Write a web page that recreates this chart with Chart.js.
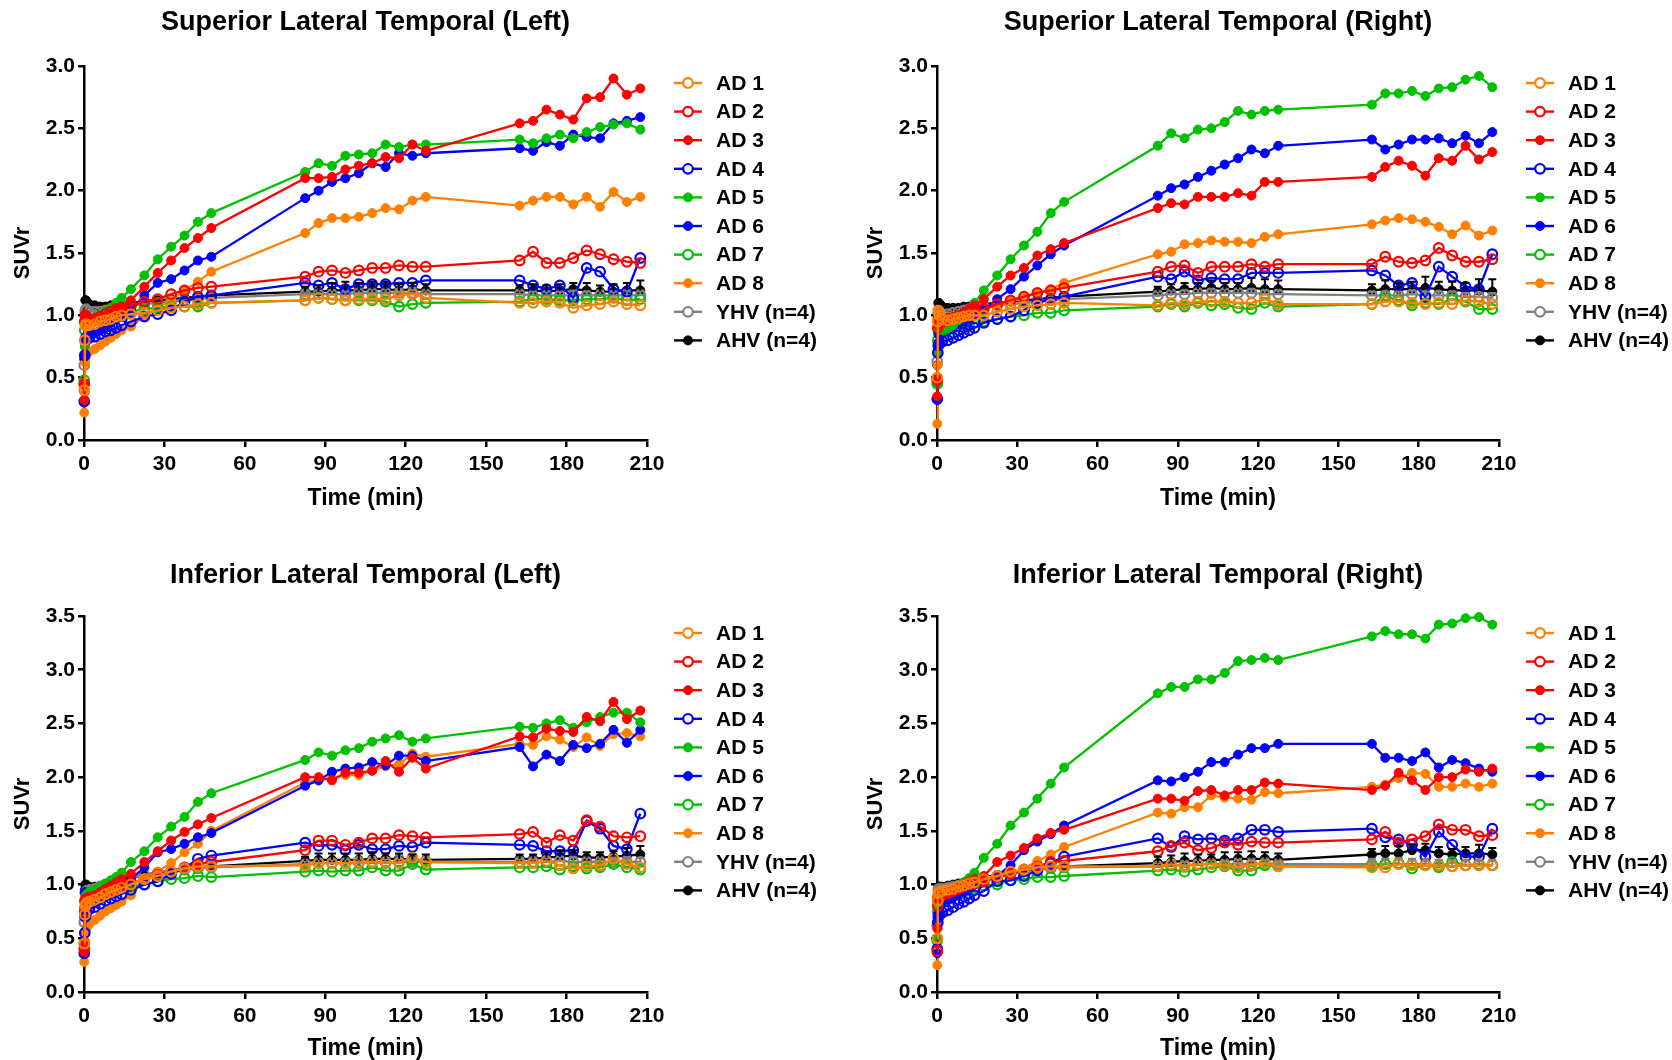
<!DOCTYPE html>
<html>
<head>
<meta charset="utf-8">
<script src="https://cdn.jsdelivr.net/npm/chart.js"></script>
<style>
html, body { margin: 0; padding: 0; background: #fff; overflow: hidden; }
#wrap { position: relative; width: 1672px; height: 1060px; }
canvas { position: absolute; }
</style>
</head>
<body>
<div id="wrap">
  <canvas id="c1" width="836" height="530" style="left:0;top:0"></canvas>
  <canvas id="c2" width="836" height="530" style="left:836px;top:0"></canvas>
  <canvas id="c3" width="836" height="530" style="left:0;top:530px"></canvas>
  <canvas id="c4" width="836" height="530" style="left:836px;top:530px"></canvas>
</div>
<script>
// frame mid-times (min) for the three scan sessions
const t1 = [0.1, 0.3, 0.5, 0.75, 1, 2, 4, 6, 8, 10, 12, 14, 17.5, 22.5, 27.5, 32.5, 37.5, 42.5, 47.5];
const t2 = [82.5, 87.5, 92.5, 97.5, 102.5, 107.5, 112.5, 117.5, 122.5, 127.5];
const t3 = [162.5, 167.5, 172.5, 177.5, 182.5, 187.5, 192.5, 197.5, 202.5, 207.5];

const seriesLabels = ['AD 1', 'AD 2', 'AD 3', 'AD 4', 'AD 5', 'AD 6', 'AD 7', 'AD 8', 'YHV (n=4)', 'AHV (n=4)'];
const xTicks = [0, 30, 60, 90, 120, 150, 180, 210];

// Superior Lateral Temporal (Left)
const sltL_AD1 = [0.40,0.80,0.92,0.93,0.92,0.92,0.93,0.95,0.96,0.97,0.99,1.00,1.01,1.02,1.04,1.06,1.07,1.09,1.10, 1.12,1.14,1.13,1.12,1.13,1.13,1.13,1.16,1.17,1.14, 1.10,1.10,1.11,1.10,1.06,1.08,1.09,1.11,1.09,1.08];
const sltL_AD2 = [0.45,0.95,1.00,0.98,0.96,0.96,0.97,0.99,1.01,1.03,1.05,1.06,1.08,1.11,1.13,1.17,1.20,1.22,1.23, 1.31,1.35,1.36,1.34,1.36,1.38,1.38,1.40,1.39,1.39, 1.44,1.51,1.42,1.42,1.46,1.52,1.49,1.45,1.43,1.42];
const sltL_AD3 = [0.32,0.45,0.98,1.00,0.97,0.95,0.95,0.97,0.99,1.01,1.04,1.07,1.12,1.23,1.34,1.44,1.54,1.62,1.70, 2.10,2.10,2.11,2.17,2.20,2.22,2.27,2.26,2.37,2.32, 2.54,2.56,2.65,2.61,2.57,2.74,2.75,2.90,2.77,2.82];
const sltL_AD4 = [0.31,0.68,0.80,0.82,0.82,0.82,0.83,0.85,0.87,0.88,0.90,0.92,0.95,0.99,1.01,1.04,1.11,1.15,1.16, 1.26,1.24,1.26,1.21,1.25,1.25,1.25,1.26,1.26,1.28, 1.28,1.24,1.21,1.24,1.14,1.38,1.35,1.21,1.19,1.46];
const sltL_AD5 = [0.45,0.75,0.95,0.96,0.96,0.96,0.98,1.00,1.03,1.06,1.10,1.14,1.21,1.32,1.45,1.55,1.64,1.75,1.82, 2.15,2.22,2.20,2.28,2.29,2.30,2.37,2.35,2.37,2.37, 2.41,2.38,2.42,2.45,2.42,2.47,2.51,2.53,2.54,2.49];
const sltL_AD6 = [0.30,0.67,0.78,0.80,0.82,0.84,0.86,0.88,0.91,0.94,0.97,1.00,1.04,1.16,1.26,1.29,1.36,1.44,1.47, 1.94,2.00,2.07,2.10,2.14,2.22,2.19,2.30,2.28,2.30, 2.34,2.32,2.39,2.36,2.45,2.43,2.42,2.54,2.56,2.59];
const sltL_AD7 = [0.48,0.88,0.94,0.95,0.95,0.95,0.96,0.97,0.98,1.00,1.01,1.02,1.03,1.05,1.06,1.07,1.07,1.07,1.10, 1.12,1.14,1.13,1.12,1.12,1.12,1.11,1.07,1.09,1.10, 1.11,1.13,1.13,1.12,1.12,1.13,1.13,1.14,1.12,1.13];
const sltL_AD8 = [0.22,0.38,0.62,0.68,0.70,0.71,0.73,0.76,0.79,0.82,0.85,0.88,0.91,0.99,1.06,1.12,1.20,1.27,1.35, 1.66,1.74,1.78,1.78,1.79,1.82,1.86,1.85,1.92,1.95, 1.88,1.92,1.95,1.95,1.89,1.95,1.87,1.99,1.91,1.95];
const sltL_YHV = [0.60,0.95,1.04,1.05,1.04,1.03,1.03,1.03,1.04,1.05,1.06,1.07,1.08,1.09,1.10,1.11,1.12,1.13,1.14, 1.17,1.17,1.17,1.17,1.18,1.18,1.18,1.18,1.18,1.17, 1.17,1.16,1.16,1.16,1.16,1.16,1.16,1.16,1.16,1.16];
const sltL_AHV = [0.65,1.02,1.12,1.12,1.11,1.09,1.08,1.07,1.07,1.08,1.08,1.09,1.10,1.11,1.12,1.13,1.14,1.15,1.16, 1.19,1.19,1.20,1.20,1.20,1.21,1.21,1.20,1.21,1.20, 1.20,1.20,1.19,1.20,1.21,1.20,1.19,1.19,1.20,1.20];

// Superior Lateral Temporal (Right)
const sltR_AD1 = [0.50,0.95,1.04,1.03,1.00,0.97,0.96,0.97,0.98,0.99,1.00,1.00,1.00,1.03,1.05,1.07,1.08,1.09,1.10, 1.08,1.10,1.09,1.11,1.11,1.11,1.10,1.10,1.13,1.09, 1.09,1.11,1.11,1.10,1.09,1.10,1.09,1.12,1.11,1.09];
const sltR_AD2 = [0.48,0.90,0.97,0.97,0.96,0.96,0.97,0.98,0.99,1.00,1.02,1.03,1.05,1.09,1.12,1.15,1.18,1.20,1.22, 1.35,1.39,1.40,1.34,1.39,1.39,1.39,1.41,1.39,1.41, 1.41,1.47,1.43,1.42,1.44,1.54,1.48,1.43,1.43,1.45];
const sltR_AD3 = [0.35,0.50,0.92,0.93,0.93,0.94,0.95,0.97,1.00,1.02,1.05,1.08,1.13,1.23,1.32,1.38,1.48,1.53,1.58, 1.86,1.90,1.89,1.95,1.95,1.95,1.98,1.96,2.07,2.07, 2.11,2.19,2.24,2.20,2.12,2.26,2.24,2.36,2.25,2.31];
const sltR_AD4 = [0.33,0.70,0.76,0.77,0.78,0.79,0.80,0.82,0.84,0.86,0.88,0.90,0.94,0.97,0.99,1.04,1.10,1.13,1.15, 1.31,1.29,1.35,1.28,1.30,1.29,1.29,1.34,1.34,1.34, 1.36,1.32,1.24,1.26,1.15,1.39,1.31,1.23,1.21,1.49];
const sltR_AD5 = [0.45,0.70,0.90,0.90,0.89,0.88,0.89,0.92,0.96,1.00,1.05,1.10,1.20,1.32,1.45,1.56,1.67,1.82,1.91, 2.36,2.46,2.42,2.49,2.50,2.55,2.64,2.61,2.64,2.65, 2.69,2.78,2.78,2.80,2.76,2.82,2.83,2.89,2.92,2.83];
const sltR_AD6 = [0.32,0.75,0.85,0.86,0.87,0.88,0.89,0.91,0.93,0.95,0.97,1.00,1.04,1.13,1.21,1.31,1.40,1.49,1.56, 1.96,2.02,2.05,2.11,2.16,2.21,2.26,2.33,2.30,2.36, 2.41,2.33,2.37,2.41,2.41,2.42,2.38,2.44,2.38,2.47];
const sltR_AD7 = [0.45,0.80,0.88,0.88,0.88,0.88,0.89,0.90,0.91,0.92,0.93,0.94,0.95,0.97,0.99,1.00,1.02,1.02,1.04, 1.07,1.09,1.07,1.10,1.08,1.09,1.06,1.05,1.10,1.07, 1.09,1.15,1.12,1.08,1.10,1.09,1.13,1.11,1.05,1.05];
const sltR_AD8 = [0.13,0.60,0.92,0.95,0.95,0.95,0.96,0.97,0.98,1.00,1.01,1.03,1.05,1.08,1.11,1.14,1.18,1.21,1.26, 1.49,1.51,1.57,1.58,1.60,1.59,1.59,1.58,1.63,1.65, 1.73,1.76,1.78,1.77,1.75,1.71,1.65,1.72,1.64,1.68];
const sltR_YHV = [0.63,0.95,1.02,1.02,1.01,1.01,1.01,1.02,1.03,1.04,1.05,1.06,1.07,1.08,1.09,1.10,1.11,1.12,1.13, 1.16,1.17,1.17,1.18,1.18,1.18,1.18,1.18,1.17,1.17, 1.16,1.16,1.16,1.17,1.16,1.16,1.16,1.15,1.15,1.14];
const sltR_AHV = [0.60,1.00,1.10,1.10,1.09,1.07,1.06,1.06,1.06,1.07,1.07,1.08,1.09,1.10,1.11,1.12,1.13,1.14,1.15, 1.19,1.20,1.21,1.21,1.22,1.21,1.21,1.22,1.21,1.21, 1.20,1.21,1.21,1.21,1.22,1.21,1.20,1.20,1.20,1.19];

// Inferior Lateral Temporal (Left)
const iltL_AD1 = [0.45,0.72,0.80,0.82,0.83,0.84,0.86,0.88,0.91,0.93,0.95,0.97,1.00,1.05,1.08,1.12,1.15,1.17,1.17, 1.18,1.20,1.20,1.20,1.21,1.21,1.21,1.20,1.25,1.21, 1.20,1.20,1.22,1.18,1.15,1.17,1.18,1.24,1.19,1.16];
const iltL_AD2 = [0.40,0.75,0.85,0.86,0.87,0.88,0.89,0.91,0.93,0.95,0.97,0.99,1.01,1.05,1.09,1.12,1.16,1.19,1.21, 1.32,1.41,1.41,1.37,1.39,1.43,1.43,1.46,1.45,1.44, 1.47,1.49,1.39,1.46,1.41,1.60,1.54,1.45,1.44,1.45];
const iltL_AD3 = [0.37,0.47,0.82,0.85,0.87,0.88,0.90,0.93,0.96,0.99,1.02,1.05,1.10,1.21,1.31,1.41,1.49,1.56,1.62, 2.00,2.00,1.97,2.04,2.04,2.06,2.15,2.05,2.18,2.08, 2.38,2.37,2.45,2.43,2.42,2.56,2.52,2.70,2.54,2.62];
const iltL_AD4 = [0.36,0.55,0.70,0.73,0.75,0.77,0.79,0.82,0.85,0.87,0.89,0.91,0.95,1.00,1.03,1.10,1.15,1.24,1.27, 1.39,1.36,1.37,1.32,1.37,1.33,1.33,1.36,1.35,1.39, 1.37,1.36,1.31,1.31,1.32,1.59,1.52,1.36,1.33,1.66];
const iltL_AD5 = [0.45,0.70,0.88,0.90,0.91,0.93,0.95,0.98,1.01,1.04,1.07,1.11,1.21,1.31,1.44,1.54,1.63,1.77,1.85, 2.16,2.23,2.20,2.25,2.27,2.33,2.36,2.39,2.33,2.36, 2.47,2.46,2.50,2.53,2.46,2.51,2.56,2.60,2.60,2.51];
const iltL_AD6 = [0.36,0.93,0.85,0.84,0.84,0.85,0.86,0.88,0.91,0.93,0.96,0.99,1.05,1.16,1.30,1.33,1.38,1.44,1.48, 1.92,1.97,2.05,2.08,2.09,2.14,2.11,2.20,2.20,2.15, 2.28,2.10,2.21,2.15,2.30,2.27,2.31,2.44,2.32,2.44];
const iltL_AD7 = [0.45,0.78,0.84,0.85,0.86,0.87,0.88,0.89,0.91,0.93,0.95,0.97,0.98,1.00,1.03,1.05,1.06,1.08,1.07, 1.12,1.13,1.12,1.13,1.13,1.16,1.13,1.13,1.19,1.14, 1.16,1.16,1.17,1.14,1.17,1.15,1.16,1.19,1.16,1.14];
const iltL_AD8 = [0.28,0.45,0.55,0.58,0.60,0.63,0.67,0.71,0.75,0.78,0.81,0.84,0.90,1.05,1.12,1.20,1.30,1.38,1.50, 1.95,1.97,1.99,2.02,2.02,2.06,2.10,2.12,2.22,2.19, 2.31,2.30,2.38,2.35,2.28,2.37,2.29,2.40,2.41,2.38];
const iltL_YHV = [0.65,0.85,0.92,0.93,0.94,0.95,0.96,0.98,1.00,1.02,1.03,1.05,1.07,1.09,1.11,1.12,1.14,1.15,1.16, 1.19,1.20,1.20,1.20,1.20,1.21,1.20,1.21,1.21,1.21, 1.21,1.21,1.21,1.22,1.21,1.21,1.21,1.21,1.21,1.21];
const iltL_AHV = [0.70,0.95,1.00,1.00,0.99,0.98,0.98,0.99,1.00,1.01,1.03,1.04,1.06,1.09,1.11,1.13,1.15,1.16,1.17, 1.22,1.23,1.23,1.23,1.23,1.24,1.24,1.24,1.23,1.23, 1.24,1.24,1.25,1.26,1.27,1.25,1.25,1.26,1.27,1.28];

// Inferior Lateral Temporal (Right)
const iltR_AD1 = [0.50,0.85,0.92,0.93,0.93,0.94,0.95,0.96,0.98,0.99,1.01,1.02,1.05,1.08,1.12,1.14,1.16,1.17,1.17, 1.17,1.19,1.17,1.19,1.19,1.18,1.16,1.18,1.20,1.17, 1.16,1.16,1.19,1.18,1.18,1.18,1.17,1.18,1.18,1.18];
const iltR_AD2 = [0.38,0.80,0.88,0.89,0.89,0.90,0.92,0.94,0.96,0.98,1.00,1.01,1.03,1.07,1.10,1.14,1.17,1.21,1.22, 1.31,1.36,1.39,1.32,1.34,1.39,1.37,1.40,1.39,1.39, 1.42,1.49,1.39,1.42,1.45,1.56,1.51,1.51,1.45,1.46];
const iltR_AD3 = [0.59,0.90,0.88,0.87,0.88,0.90,0.92,0.94,0.97,1.00,1.03,1.05,1.08,1.21,1.27,1.34,1.43,1.48,1.51, 1.80,1.80,1.78,1.87,1.88,1.83,1.88,1.88,1.95,1.94, 1.88,1.92,2.04,1.97,1.88,2.00,2.00,2.07,2.05,2.08];
const iltR_AD4 = [0.40,0.65,0.70,0.71,0.72,0.74,0.76,0.79,0.82,0.84,0.87,0.90,0.94,1.03,1.04,1.08,1.13,1.20,1.26, 1.43,1.35,1.45,1.42,1.43,1.41,1.43,1.51,1.51,1.49, 1.52,1.44,1.42,1.37,1.26,1.49,1.37,1.26,1.26,1.52];
const iltR_AD5 = [0.50,0.78,0.85,0.86,0.87,0.89,0.91,0.94,0.98,1.02,1.06,1.11,1.25,1.38,1.55,1.67,1.80,1.94,2.09, 2.78,2.84,2.84,2.91,2.91,2.97,3.08,3.09,3.11,3.09, 3.31,3.36,3.33,3.33,3.29,3.42,3.43,3.48,3.49,3.42];
const iltR_AD6 = [0.36,0.72,0.80,0.81,0.82,0.84,0.86,0.88,0.91,0.94,0.97,1.00,1.03,1.08,1.18,1.32,1.40,1.47,1.55, 1.97,1.96,2.00,2.05,2.14,2.14,2.21,2.27,2.27,2.31, 2.31,2.18,2.18,2.15,2.23,2.09,2.16,2.13,2.08,2.05];
const iltR_AD7 = [0.48,0.75,0.82,0.83,0.84,0.85,0.87,0.89,0.91,0.93,0.95,0.97,0.99,1.00,1.04,1.05,1.07,1.07,1.08, 1.13,1.14,1.12,1.14,1.16,1.17,1.13,1.13,1.18,1.17, 1.17,1.19,1.20,1.15,1.18,1.16,1.21,1.18,1.19,1.18];
const iltR_AD8 = [0.25,0.60,0.85,0.88,0.89,0.90,0.91,0.93,0.95,0.97,0.99,1.00,1.02,1.07,1.10,1.15,1.22,1.28,1.35, 1.67,1.66,1.72,1.72,1.83,1.81,1.80,1.79,1.86,1.85, 1.91,1.93,1.99,2.04,2.03,1.91,1.91,1.94,1.91,1.94];
const iltR_YHV = [0.62,0.88,0.95,0.96,0.96,0.96,0.97,0.98,0.99,1.01,1.02,1.04,1.06,1.08,1.10,1.12,1.14,1.15,1.16, 1.17,1.18,1.18,1.19,1.19,1.19,1.19,1.19,1.20,1.19, 1.19,1.19,1.19,1.19,1.19,1.18,1.17,1.18,1.18,1.18];
const iltR_AHV = [0.65,0.92,0.98,0.98,0.98,0.98,0.99,1.00,1.01,1.02,1.04,1.05,1.07,1.09,1.11,1.13,1.15,1.16,1.17, 1.20,1.21,1.22,1.22,1.23,1.23,1.24,1.24,1.24,1.23, 1.28,1.29,1.29,1.32,1.32,1.29,1.28,1.29,1.29,1.28];

// upper SD of the control groups, sessions 2 and 3
const sltL_YHV_sd = [0.02,0.03,0.03,0.02,0.03,0.03,0.03,0.03,0.04,0.03, 0.03,0.03,0.03,0.03,0.04,0.03,0.04,0.03,0.04,0.04];
const sltL_AHV_sd = [0.04,0.05,0.06,0.07,0.06,0.06,0.06,0.05,0.05,0.05, 0.04,0.05,0.05,0.05,0.05,0.06,0.05,0.06,0.06,0.08];
const sltR_YHV_sd = [0.03,0.03,0.03,0.03,0.03,0.03,0.03,0.03,0.03,0.03, 0.03,0.03,0.03,0.03,0.03,0.03,0.03,0.03,0.03,0.04];
const sltR_AHV_sd = [0.04,0.05,0.05,0.05,0.06,0.05,0.05,0.08,0.08,0.07, 0.05,0.07,0.05,0.06,0.09,0.06,0.07,0.06,0.09,0.10];
const iltL_YHV_sd = [0.03,0.04,0.03,0.04,0.04,0.05,0.04,0.06,0.04,0.05, 0.04,0.04,0.04,0.04,0.05,0.04,0.04,0.04,0.05,0.04];
const iltL_AHV_sd = [0.04,0.06,0.06,0.06,0.06,0.06,0.05,0.05,0.05,0.05, 0.04,0.04,0.05,0.06,0.05,0.05,0.05,0.05,0.07,0.08];
const iltR_YHV_sd = [0.03,0.04,0.04,0.04,0.04,0.04,0.05,0.05,0.04,0.04, 0.05,0.05,0.06,0.05,0.05,0.05,0.06,0.05,0.05,0.05];
const iltR_AHV_sd = [0.06,0.06,0.07,0.06,0.05,0.07,0.06,0.07,0.06,0.06, 0.05,0.07,0.07,0.05,0.06,0.06,0.05,0.06,0.08,0.06];

const times = t1.concat(t2, t3);
const FONT = "'Liberation Sans', Arial, Helvetica, sans-serif";
const ORANGE = '#FF8000', RED = '#FF0000', BLUE = '#0000FF', GREEN = '#00C000', GRAY = '#808080', BLACK = '#000000';
const seriesColors = [ORANGE, RED, RED, BLUE, GREEN, BLUE, GREEN, ORANGE, GRAY, BLACK];
const seriesFilled = [false, false, true, false, true, true, false, true, false, true];

// title centred over the plot area
const panelTitle = {
    id: 'panelTitle',
    afterDraw(chart, args, opts) {
        const ctx = chart.ctx, a = chart.chartArea;
        ctx.save();
        ctx.font = 'bold 27px ' + FONT;
        ctx.fillStyle = '#000';
        ctx.textAlign = 'center';
        ctx.textBaseline = 'middle';
        ctx.fillText(opts.text, (a.left + a.right) / 2, opts.y);
        ctx.restore();
    }
};

// GraphPad style legend: short line with the marker, label on the right
const sideLegend = {
    id: 'sideLegend',
    afterDraw(chart) {
        const ctx = chart.ctx, a = chart.chartArea;
        ctx.save();
        chart.data.datasets.forEach((ds, i) => {
            const y = a.top + 17 + i * 28.6;
            const mx = a.right + 41;
            ctx.strokeStyle = ds.borderColor;
            ctx.lineWidth = 2.4;
            ctx.beginPath();
            ctx.moveTo(mx - 14, y);
            ctx.lineTo(mx + 14, y);
            ctx.stroke();
            ctx.beginPath();
            ctx.arc(mx, y, ds.pointRadius, 0, Math.PI * 2);
            ctx.fillStyle = ds.pointBackgroundColor === 'transparent' ? '#fff' : ds.pointBackgroundColor;
            ctx.fill();
            ctx.lineWidth = ds.pointBorderWidth;
            ctx.stroke();
            ctx.fillStyle = '#000';
            ctx.font = 'bold 21px ' + FONT;
            ctx.textAlign = 'left';
            ctx.textBaseline = 'middle';
            ctx.fillText(ds.label, a.right + 69, y + 1);
        });
        ctx.restore();
    }
};

// upward error bars with caps
const errorBars = {
    id: 'errorBars',
    afterDatasetsDraw(chart) {
        const ctx = chart.ctx, xs = chart.scales.x, ys = chart.scales.y;
        ctx.save();
        chart.data.datasets.forEach(ds => {
            if (!ds.errUp) return;
            ctx.strokeStyle = ds.borderColor;
            ctx.lineWidth = 2;
            ds.data.forEach((p, i) => {
                const e = ds.errUp[i];
                if (e == null) return;
                const x = xs.getPixelForValue(p.x);
                const y0 = ys.getPixelForValue(p.y);
                const y1 = ys.getPixelForValue(p.y + e);
                ctx.beginPath();
                ctx.moveTo(x, y0);
                ctx.lineTo(x, y1);
                ctx.moveTo(x - 4, y1);
                ctx.lineTo(x + 4, y1);
                ctx.stroke();
            });
        });
        ctx.restore();
    }
};

function makePanel(id, title, titleY, yMax, series, yhvSd, ahvSd, pad, xHeight) {
    const pad1 = new Array(t1.length).fill(null);
    const datasets = series.map((vals, i) => {
        const c = seriesColors[i];
        const ds = {
            label: seriesLabels[i],
            data: vals.map((v, k) => ({ x: times[k], y: v })),
            borderColor: c,
            borderWidth: 2.3,
            pointStyle: 'circle',
            pointRadius: seriesFilled[i] ? 4.5 : 4.8,
            pointBorderWidth: seriesFilled[i] ? 1 : 2.2,
            pointBorderColor: c,
            pointBackgroundColor: seriesFilled[i] ? c : 'transparent',
            tension: 0,
            fill: false,
            clip: false
        };
        if (i === 8) ds.errUp = pad1.concat(yhvSd);
        if (i === 9) ds.errUp = pad1.concat(ahvSd);
        return ds;
    });
    const tickFont = { family: FONT, size: 21, weight: 'bold' };
    return new Chart(document.getElementById(id), {
        type: 'line',
        data: { datasets },
        options: {
            responsive: false,
            animation: false,
            devicePixelRatio: 1,
            layout: { padding: pad },
            plugins: {
                legend: { display: false },
                tooltip: { enabled: false },
                panelTitle: { text: title, y: titleY }
            },
            scales: {
                x: {
                    type: 'linear',
                    min: 0, max: 210,
                    afterBuildTicks: s => { s.ticks = xTicks.map(v => ({ value: v })); },
                    afterFit: s => { s.height = xHeight; },
                    border: { color: '#000', width: 2.5 },
                    grid: { drawOnChartArea: false, drawTicks: true, tickLength: 7, color: '#000', lineWidth: 2.5 },
                    ticks: { color: '#000', font: tickFont, padding: 5, maxRotation: 0 },
                    title: { display: true, text: 'Time (min)', color: '#000', padding: 0,
                             font: { family: FONT, size: 23, weight: 'bold', lineHeight: 1 } }
                },
                y: {
                    min: 0, max: yMax,
                    afterFit: s => { s.width = 84; },
                    border: { color: '#000', width: 2.5 },
                    grid: { drawOnChartArea: false, drawTicks: true, tickLength: 6, color: '#000', lineWidth: 2.5 },
                    ticks: { color: '#000', font: tickFont, stepSize: 0.5, padding: 3,
                             callback: v => v.toFixed(1) },
                    title: { display: true, text: 'SUVr', color: '#000', padding: { top: 10 },
                             font: { family: FONT, size: 22, weight: 'bold' } }
                }
            }
        },
        plugins: [panelTitle, sideLegend, errorBars]
    });
}

makePanel('c1', 'Superior Lateral Temporal (Left)', 23, 3.0,
    [sltL_AD1, sltL_AD2, sltL_AD3, sltL_AD4, sltL_AD5, sltL_AD6, sltL_AD7, sltL_AD8, sltL_YHV, sltL_AHV],
    sltL_YHV_sd, sltL_AHV_sd, { left: 0, right: 189, top: 66, bottom: 20 }, 70);
makePanel('c2', 'Superior Lateral Temporal (Right)', 23, 3.0,
    [sltR_AD1, sltR_AD2, sltR_AD3, sltR_AD4, sltR_AD5, sltR_AD6, sltR_AD7, sltR_AD8, sltR_YHV, sltR_AHV],
    sltR_YHV_sd, sltR_AHV_sd, { left: 17, right: 173, top: 66, bottom: 20 }, 70);
makePanel('c3', 'Inferior Lateral Temporal (Left)', 46, 3.5,
    [iltL_AD1, iltL_AD2, iltL_AD3, iltL_AD4, iltL_AD5, iltL_AD6, iltL_AD7, iltL_AD8, iltL_YHV, iltL_AHV],
    iltL_YHV_sd, iltL_AHV_sd, { left: 0, right: 189, top: 86, bottom: 0 }, 68);
makePanel('c4', 'Inferior Lateral Temporal (Right)', 46, 3.5,
    [iltR_AD1, iltR_AD2, iltR_AD3, iltR_AD4, iltR_AD5, iltR_AD6, iltR_AD7, iltR_AD8, iltR_YHV, iltR_AHV],
    iltR_YHV_sd, iltR_AHV_sd, { left: 17, right: 173, top: 86, bottom: 0 }, 68);
</script>
</body>
</html>
